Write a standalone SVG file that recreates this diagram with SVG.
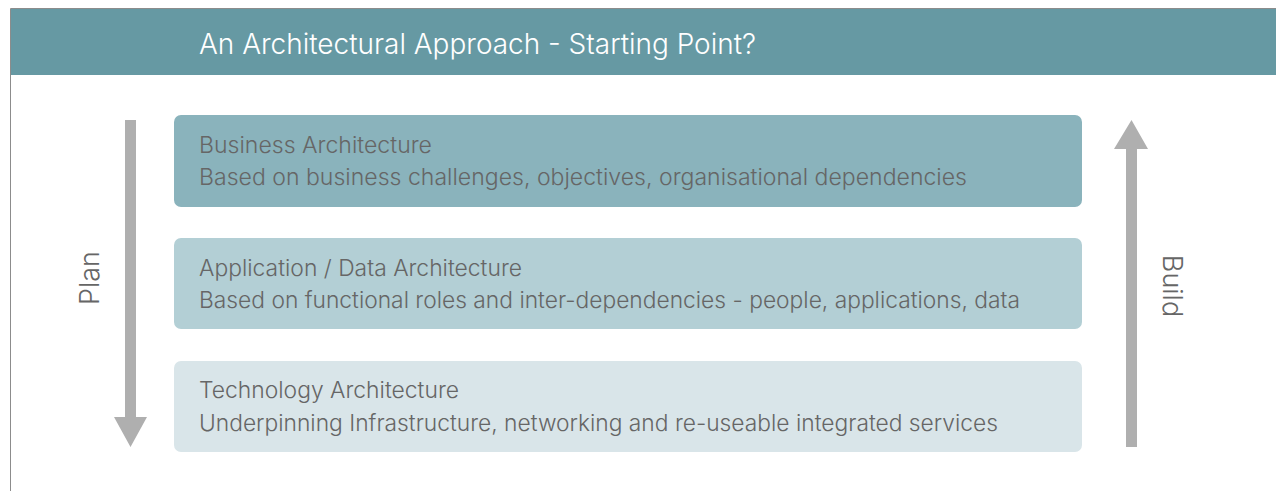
<svg xmlns="http://www.w3.org/2000/svg" width="1276" height="491" viewBox="0 0 1276 491">
  <style>
    text { font-family: Inter, "Liberation Sans", Arial, sans-serif; font-weight: 300; }
    .box-title { font-size: 22.5px; fill: #666666; }
    .side { font-size: 27px; fill: #666666; }
    .arrow { fill: #AFAFAF; }
  </style>
  <rect x="0" y="0" width="1276" height="491" fill="#FFFFFF"/>
  <!-- frame -->
  <path d="M10.5 491 V8.5 H1276" fill="none" stroke="#8C8C8C" stroke-width="1"/>
  <!-- header band -->
  <g id="header">
    <rect x="11" y="9" width="1265" height="66" fill="#6699A3"/>
    <text x="199" y="54" font-size="28" fill="#FFFFFF" textLength="557" lengthAdjust="spacingAndGlyphs">An Architectural Approach - Starting Point?</text>
  </g>
  <g id="business">
    <rect x="174" y="115" width="908" height="92" rx="7" fill="#8AB3BC"/>
    <text class="box-title" x="199" y="153" textLength="233" lengthAdjust="spacingAndGlyphs">Business Architecture</text>
    <text class="box-title" x="199" y="185" textLength="768" lengthAdjust="spacingAndGlyphs">Based on business challenges, objectives, organisational dependencies</text>
  </g>
  <g id="application">
    <rect x="174" y="238" width="908" height="91" rx="7" fill="#B3CFD5"/>
    <text class="box-title" x="199" y="276" textLength="323" lengthAdjust="spacingAndGlyphs">Application / Data Architecture</text>
    <text class="box-title" x="199" y="308" textLength="821" lengthAdjust="spacingAndGlyphs">Based on functional roles and inter-dependencies - people, applications, data</text>
  </g>
  <g id="technology">
    <rect x="174" y="361" width="908" height="91" rx="7" fill="#D9E5E9"/>
    <text class="box-title" x="199" y="398" textLength="260" lengthAdjust="spacingAndGlyphs">Technology Architecture</text>
    <text class="box-title" x="199" y="431" textLength="799" lengthAdjust="spacingAndGlyphs">Underpinning Infrastructure, networking and re-useable integrated services</text>
  </g>
  <g id="connectors">
    <polygon class="arrow" points="125,120 136,120 136,417 147,417 130.5,447 114,417 125,417"/>
    <polygon class="arrow" points="1126,447 1137,447 1137,149 1148,149 1131.5,120 1114,149 1126,149"/>
  </g>
  <g id="plan">
    <text class="side" transform="translate(99,278) rotate(-90)" text-anchor="middle">Plan</text>
  </g>
  <g id="build">
    <text class="side" transform="translate(1163,286) rotate(90)" text-anchor="middle">Build</text>
  </g>
</svg>
